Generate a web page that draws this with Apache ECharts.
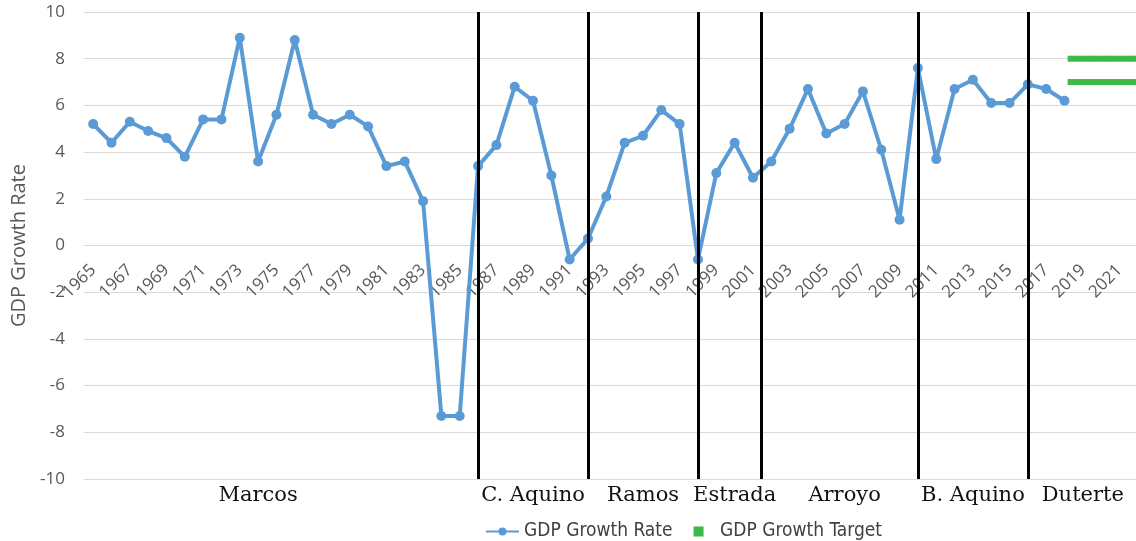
<!DOCTYPE html>
<html>
<head>
<meta charset="utf-8">
<script src="https://cdn.jsdelivr.net/npm/echarts@6/dist/echarts.min.js"></script>
<style>
html,body{margin:0;padding:0;background:#fff;}
#chart{width:1136px;height:541px;}
</style>
</head>
<body>
<div id="chart"></div>
<script>
// ---- Data ----
const years = [];
for (let y = 1965; y <= 2022; y++) years.push(String(y));

const gdpGrowth = [
  5.2, 4.4, 5.3, 4.9, 4.6, 3.8, 5.4, 5.4, 8.9, 3.6,   // 1965-1974
  5.6, 8.8, 5.6, 5.2, 5.6, 5.1, 3.4, 3.6, 1.9, -7.3,  // 1975-1984
  -7.3, 3.4, 4.3, 6.8, 6.2, 3.0, -0.6, 0.3, 2.1, 4.4, // 1985-1994
  4.7, 5.8, 5.2, -0.6, 3.1, 4.4, 2.9, 3.6, 5.0, 6.7,  // 1995-2004
  4.8, 5.2, 6.6, 4.1, 1.1, 7.6, 3.7, 6.7, 7.1, 6.1,   // 2005-2014
  6.1, 6.9, 6.7, 6.2, null, null, null, null          // 2015-2022
];

const targetYears = ['2019', '2020', '2021', '2022'];
const targetLow = [7, 7, 7, 7];
const targetHigh = [8, 8, 8, 8];

const presidents = ['Marcos', 'C. Aquino', 'Ramos', 'Estrada', 'Arroyo', 'B. Aquino', 'Duterte'];
const presidentLabelYears = ['1974', '1989', '1995', '2000', '2006', '2013', '2019'];
const termBoundaries = [1986, 1992, 1998, 2001.47, 2010, 2016];

const yTicks = { min: -10, max: 10, interval: 2 };

// ---- Chart ----
const nameByYear = {};
presidentLabelYears.forEach((y, i) => { nameByYear[y] = presidents[i]; });

const chart = echarts.init(document.getElementById('chart'));
chart.setOption({
  animation: false,
  grid: { left: 84, width: 1063, top: 12, bottom: 62, containLabel: false, outerBoundsMode: 'none' },
  legend: {
    left: 480,
    top: 517,
    itemWidth: 33,
    itemHeight: 10,
    itemGap: 21,
    textStyle: { fontFamily: "'DejaVu Sans Condensed', 'Liberation Sans', sans-serif", fontSize: 19, color: '#404040' },
    data: [
      { name: 'GDP Growth Rate' },
      { name: 'GDP Growth Target', icon: 'path://M0,0h10v10h-10z' }
    ]
  },
  xAxis: [
    {
      type: 'category',
      data: years,
      position: 'bottom',
      offset: 0,
      boundaryGap: true,
      axisLine: { show: true, onZero: false, lineStyle: { color: '#D9D9D9', width: 1 } },
      axisTick: { show: false },
      splitLine: { show: false },
      axisLabel: {
        interval: 1,
        rotate: 45,
        margin: 22,
        fontFamily: 'Open Sans',
        fontSize: 17,
        color: '#595959'
      }
    },
    {
      type: 'category',
      data: years,
      position: 'bottom',
      boundaryGap: true,
      axisLine: { show: false, onZero: false },
      axisTick: { show: false },
      splitLine: { show: false },
      axisLabel: {
        interval: 0,
        margin: 6,
        fontFamily: 'DejaVu Serif',
        fontSize: 21,
        color: '#111',
        formatter: function (v) { return nameByYear[v] || ''; }
      }
    },
    {
      type: 'value',
      min: 1964.5,
      max: 2022.5,
      show: false,
      axisLine: { onZero: false }
    }
  ],
  yAxis: {
    type: 'value',
    min: yTicks.min,
    max: yTicks.max,
    interval: yTicks.interval,
    name: 'GDP Growth Rate',
    nameLocation: 'middle',
    nameGap: 52,
    nameTextStyle: { fontFamily: 'Open Sans', fontSize: 20, color: '#595959' },
    axisLine: { show: false, onZero: false },
    axisTick: { show: false },
    splitLine: { lineStyle: { color: '#D9D9D9', width: 1 } },
    axisLabel: { margin: 19, fontFamily: 'Open Sans', fontSize: 17, color: '#595959' }
  },
  series: [
    {
      name: 'GDP Growth Rate',
      type: 'line',
      xAxisIndex: 0,
      data: gdpGrowth,
      connectNulls: false,
      symbol: 'circle',
      symbolSize: 10,
      lineStyle: { color: '#5B9BD5', width: 4 },
      itemStyle: { color: '#5B9BD5' },
      z: 3
    },
    {
      name: 'GDP Growth Target',
      type: 'custom',
      xAxisIndex: 0,
      itemStyle: { color: '#3DB849' },
      encode: { x: 0, y: [1, 2] },
      data: targetYears.map((y, i) => [y, targetLow[i], targetHigh[i]]),
      renderItem: function (params, api) {
        const bw = api.size([1, 0])[0];
        const lo = api.coord([api.value(0), api.value(1)]);
        const hi = api.coord([api.value(0), api.value(2)]);
        const extL = params.dataIndex === 0 ? bw * 0.83 : bw * 0.5;
        const x0 = lo[0] - extL;
        const x1 = lo[0] + bw * 0.5 + 1;
        const fill = api.visual('color');
        return {
          type: 'group',
          children: [
            { type: 'rect', shape: { x: x0, y: hi[1] - 3, width: x1 - x0, height: 6 }, style: { fill: fill } },
            { type: 'rect', shape: { x: x0, y: lo[1] - 3, width: x1 - x0, height: 6 }, style: { fill: fill } }
          ]
        };
      },
      z: 3
    },
    {
      name: 'terms',
      type: 'line',
      xAxisIndex: 2,
      data: [],
      silent: true,
      z: 10,
      markLine: {
        silent: true,
        symbol: ['none', 'none'],
        label: { show: false },
        lineStyle: { color: '#000', width: 3, type: 'solid' },
        z: 10,
        data: termBoundaries.map(v => ({ xAxis: v }))
      }
    }
  ]
});

// Place the year axis on the zero line (computed from the y scale)
const zeroY = chart.convertToPixel({ yAxisIndex: 0 }, 0);
const bottomY = chart.convertToPixel({ yAxisIndex: 0 }, yTicks.min);
chart.setOption({
  xAxis: [{ offset: zeroY - bottomY }, {}, {}]
});
</script>
</body>
</html>
